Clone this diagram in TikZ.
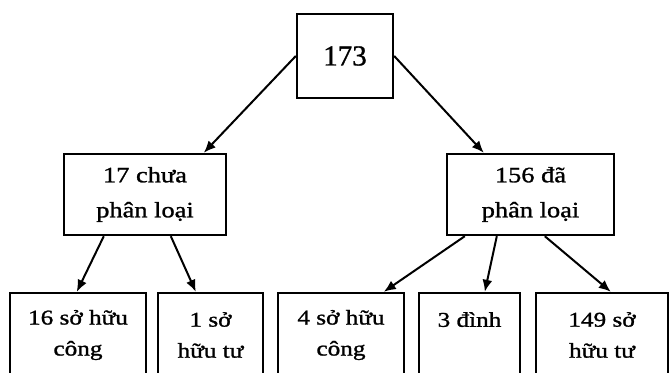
\documentclass[tikz,border=0pt]{standalone}
\usepackage{fontspec}
\setmainfont{Liberation Serif}
\newfontfamily\widefont[FakeStretch=1.2,FakeBold=1.2]{Liberation Serif}
\newfontfamily\topfont[FakeBold=1]{Liberation Serif}
\usetikzlibrary{arrows.meta}
\begin{document}
\begin{tikzpicture}[x=1pt,y=-1pt,
  box/.style={draw=black, line width=2.4pt, rectangle, inner sep=0pt, align=center, text=black},
  midtext/.style={font=\widefont\fontsize{22}{35}\selectfont},
  lowtext/.style={font=\widefont\fontsize{21}{31}\selectfont},
  arr/.style={draw=black, line width=2pt, -{Latex[length=12pt,width=10pt]}}]
\useasboundingbox (0,0) rectangle (671,372);
\node[box, minimum width=96pt, minimum height=84pt, font=\topfont\fontsize{29}{34}\selectfont] (top) at (345,56) {173};
\node[box, midtext, minimum width=162pt, minimum height=81pt] (L) at (145,194.5) {17 chưa\\phân loại};
\node[box, midtext, minimum width=167pt, minimum height=81pt] (R) at (530.5,194.5) {156 đã\\phân loại};
\node[box, lowtext, minimum width=136pt, minimum height=84pt] (b1) at (78,335) {16 sở hữu\\công};
\node[box, lowtext, minimum width=105pt, minimum height=84pt] (b2) at (210.5,335) {1 sở\\hữu tư};
\node[box, lowtext, minimum width=126pt, minimum height=84pt] (b3) at (341,335) {4 sở hữu\\công};
\node[box, lowtext, minimum width=101pt, minimum height=84pt] (b4) at (469.5,335) {3 đình\\\phantom{x}};
\node[box, lowtext, minimum width=132pt, minimum height=84pt] (b5) at (602,335) {149 sở\\hữu tư};
\draw[arr] (top.west) -- ([xshift=141pt]L.north west);
\draw[arr] (top.east) -- ([xshift=38pt]R.north west);
\draw[arr] ([xshift=41pt]L.south west) -- ([xshift=68pt]b1.north west);
\draw[arr] ([xshift=108pt]L.south west) -- ([xshift=39pt]b2.north west);
\draw[arr] ([xshift=19pt]R.south west) -- ([xshift=107pt]b3.north west);
\draw[arr] ([xshift=51pt]R.south west) -- ([xshift=67pt]b4.north west);
\draw[arr] ([xshift=99pt]R.south west) -- ([xshift=76pt]b5.north west);
\end{tikzpicture}
\end{document}
